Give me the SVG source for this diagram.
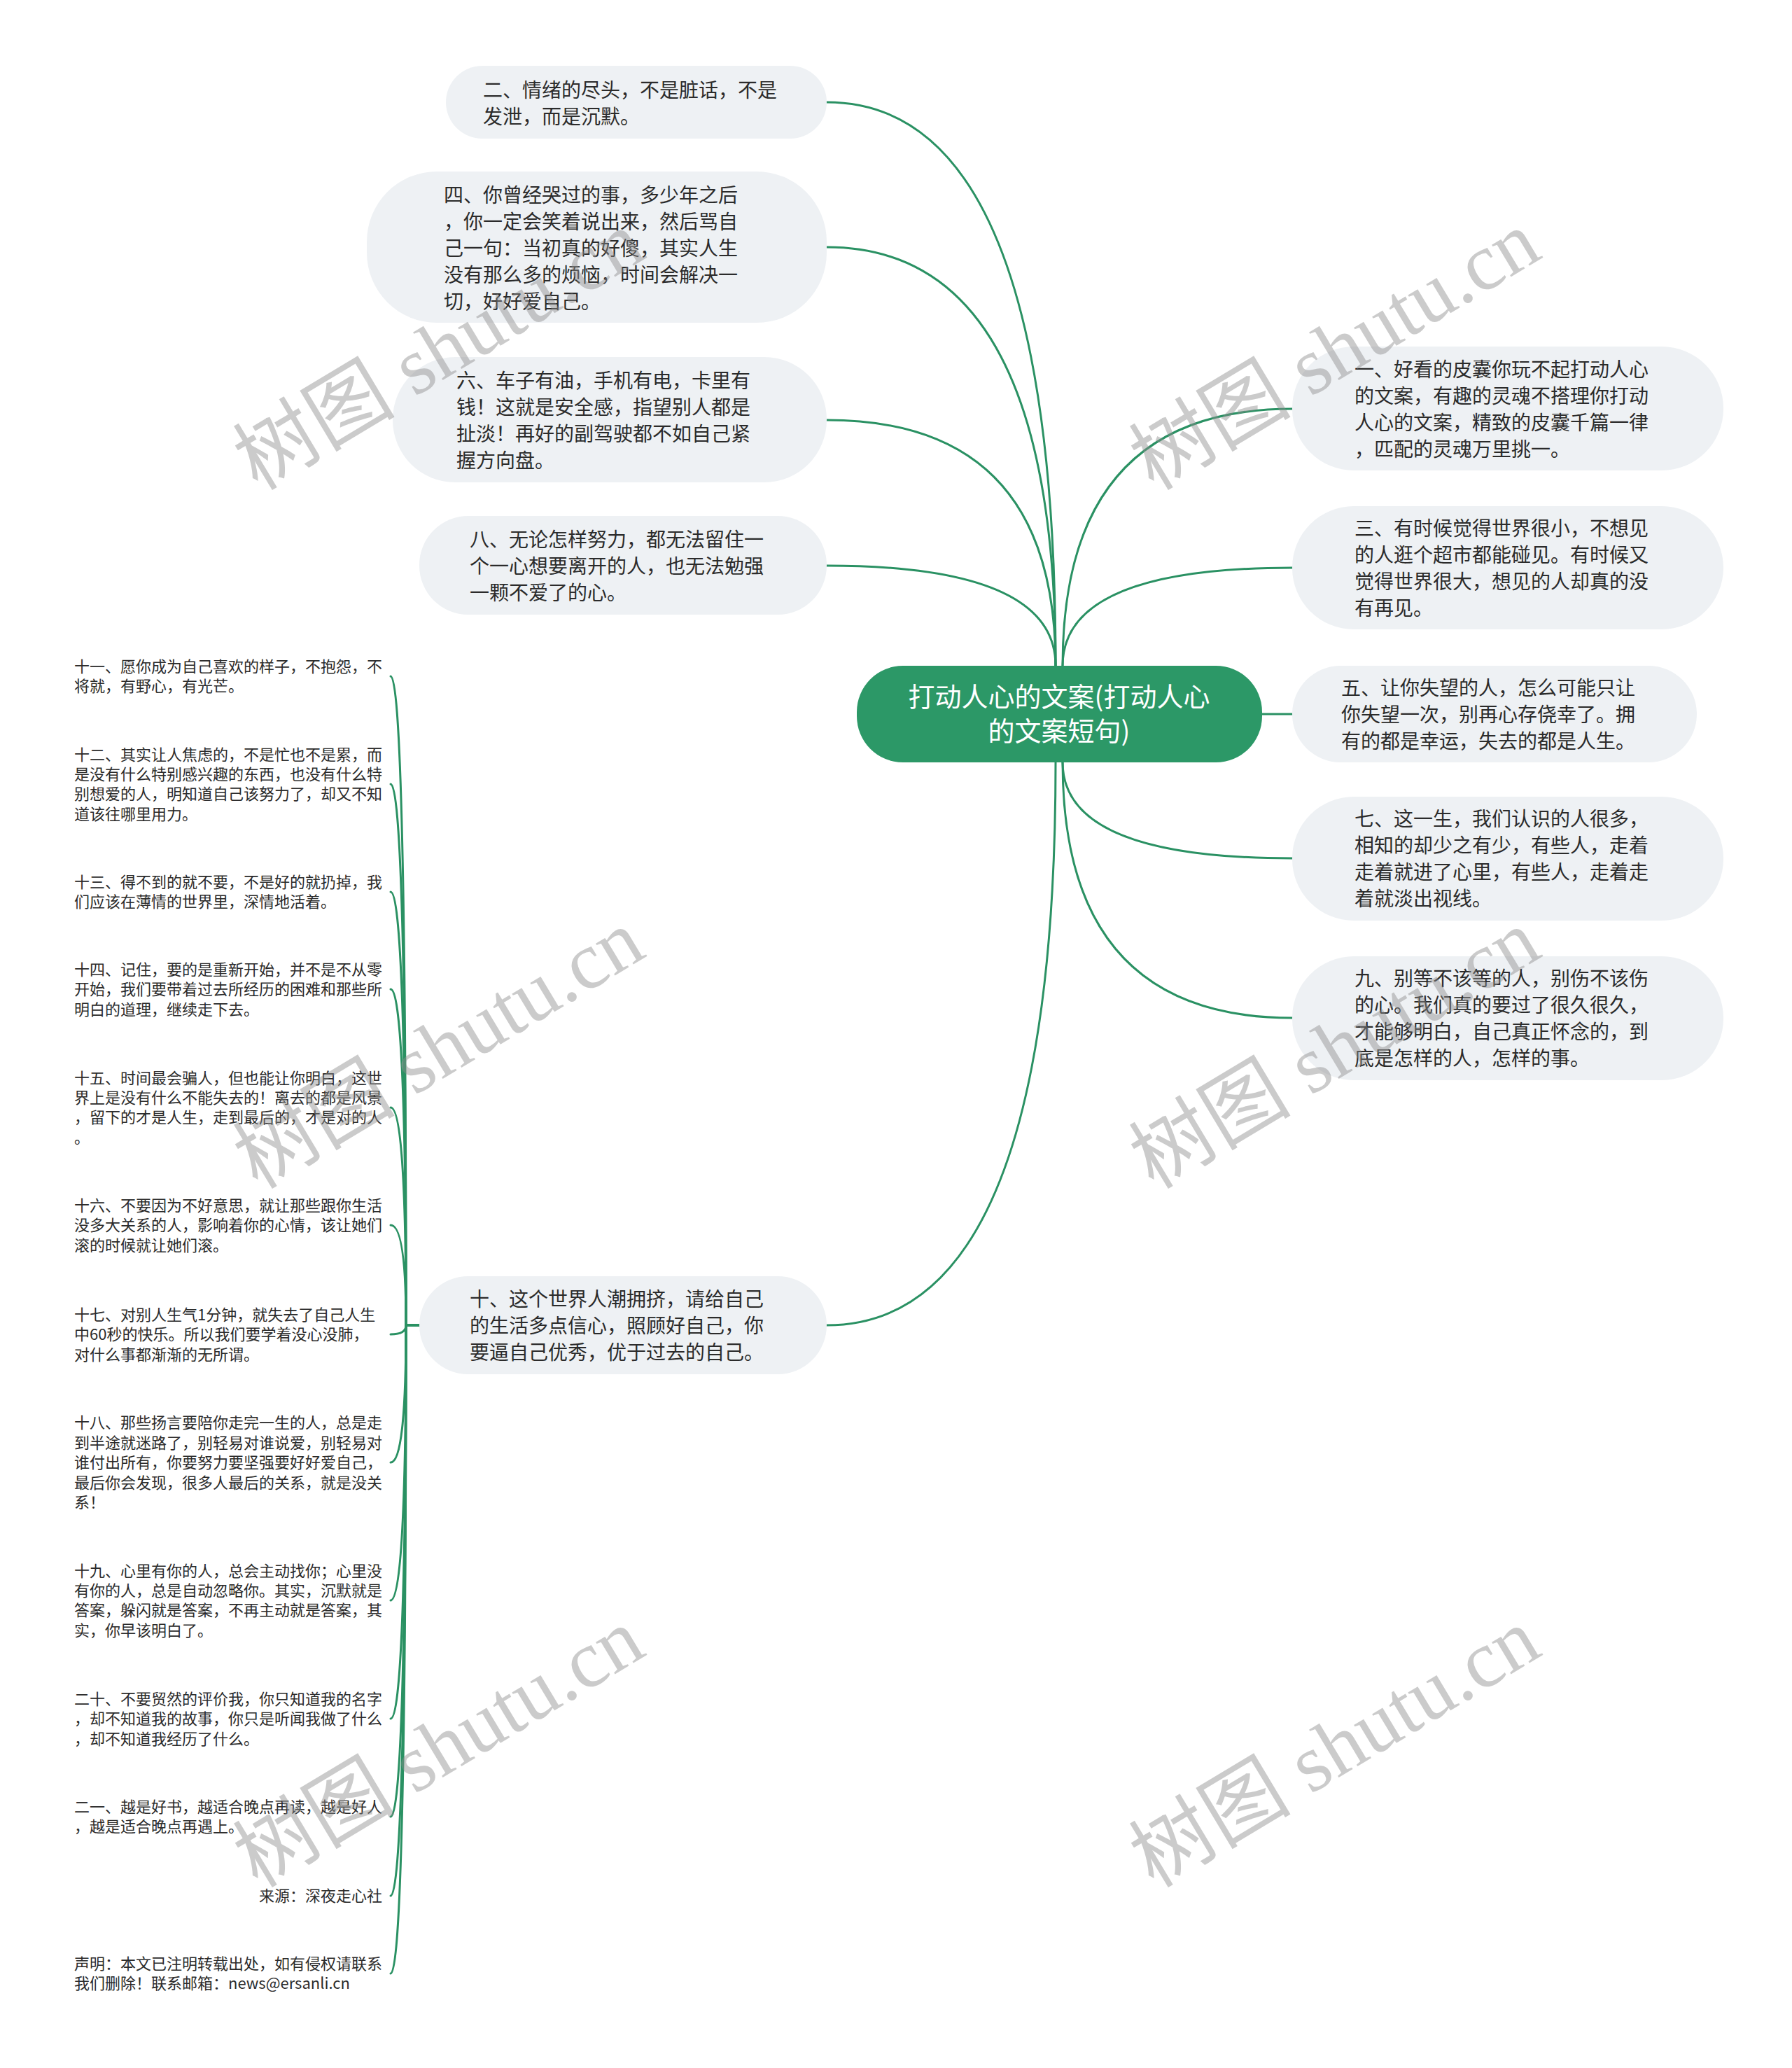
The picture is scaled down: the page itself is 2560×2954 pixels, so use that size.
<svg xmlns="http://www.w3.org/2000/svg" width="2560" height="2954" viewBox="0 0 2560 2954">
<style>
.bg{fill:#ffffff}
.box{fill:#eef1f4}
.root{fill:#2c9867}
.t{font-family:"Noto Sans CJK SC","Noto Sans",sans-serif;font-size:28px;fill:#2b2b2b}
.rt{font-family:"Noto Sans CJK SC","Noto Sans",sans-serif;font-size:38px;fill:#ffffff;text-anchor:middle}
.lf{font-family:"Noto Sans CJK SC","Noto Sans",sans-serif;font-size:22px;fill:#2b2b2b}
.link{fill:none;stroke:#2a9163;stroke-width:3;stroke-linecap:round}
.wm{font-family:"Liberation Serif","Noto Sans CJK SC",serif;font-size:116px;fill:rgba(140,140,140,0.45)}
</style>
<rect class="bg" x="0" y="0" width="2560" height="2954"/>

<g id="connectors">
  <path class="link" d="M1508 951 Q1508 146 1181 146"/>
  <path class="link" d="M1508 951 Q1508 353 1181 353"/>
  <path class="link" d="M1508 951 Q1508 600 1181 600"/>
  <path class="link" d="M1508 951 Q1508 808 1181 808"/>
  <path class="link" d="M1508 1089 Q1508 1893 1181 1893"/>
  <path class="link" d="M1518 951 Q1518 584 1846 584"/>
  <path class="link" d="M1518 951 Q1518 811 1846 811"/>
  <path class="link" d="M1803 1020 L1846 1020"/>
  <path class="link" d="M1518 1089 Q1518 1226 1846 1226"/>
  <path class="link" d="M1518 1089 Q1518 1454 1846 1454"/>
  <path class="link" d="M599 1893 H580 Q580 966 558 966"/>
  <path class="link" d="M599 1893 H580 Q580 1120 558 1120"/>
  <path class="link" d="M599 1893 H580 Q580 1274 558 1274"/>
  <path class="link" d="M599 1893 H580 Q580 1413 558 1413"/>
  <path class="link" d="M599 1893 H580 Q580 1582 558 1582"/>
  <path class="link" d="M599 1893 H580 Q580 1750 558 1750"/>
  <path class="link" d="M599 1893 H580 Q580 1906 558 1906"/>
  <path class="link" d="M599 1893 H580 Q580 2089 558 2089"/>
  <path class="link" d="M599 1893 H580 Q580 2286 558 2286"/>
  <path class="link" d="M599 1893 H580 Q580 2455 558 2455"/>
  <path class="link" d="M599 1893 H580 Q580 2595 558 2595"/>
  <path class="link" d="M599 1893 H580 Q580 2708 558 2708"/>
  <path class="link" d="M599 1893 H580 Q580 2819 558 2819"/>
</g>

<g id="root">
  <rect class="root" x="1224" y="951" width="579" height="138" rx="66"/>
  <text class="rt" x="1513" y="1009">打动人心的文案(打动人心</text>
  <text class="rt" x="1513" y="1058">的文案短句)</text>
</g>

<g id="n2">
  <rect class="box" x="637" y="94" width="544" height="104" rx="52"/>
  <text class="t" x="690" y="139">二、情绪的尽头，不是脏话，不是</text>
  <text class="t" x="690" y="177">发泄，而是沉默。</text>
</g>
<g id="n4">
  <rect class="box" x="524" y="245" width="657" height="216" rx="100"/>
  <text class="t" x="634" y="289">四、你曾经哭过的事，多少年之后</text>
  <text class="t" x="634" y="327">，你一定会笑着说出来，然后骂自</text>
  <text class="t" x="634" y="365">己一句：当初真的好傻，其实人生</text>
  <text class="t" x="634" y="403">没有那么多的烦恼，时间会解决一</text>
  <text class="t" x="634" y="441">切，好好爱自己。</text>
</g>
<g id="n6">
  <rect class="box" x="561" y="510" width="620" height="179" rx="89"/>
  <text class="t" x="652" y="554">六、车子有油，手机有电，卡里有</text>
  <text class="t" x="652" y="592">钱！这就是安全感，指望别人都是</text>
  <text class="t" x="652" y="630">扯淡！再好的副驾驶都不如自己紧</text>
  <text class="t" x="652" y="668">握方向盘。</text>
</g>
<g id="n8">
  <rect class="box" x="599" y="737" width="582" height="141" rx="70"/>
  <text class="t" x="671" y="781">八、无论怎样努力，都无法留住一</text>
  <text class="t" x="671" y="819">个一心想要离开的人，也无法勉强</text>
  <text class="t" x="671" y="857">一颗不爱了的心。</text>
</g>
<g id="n10">
  <rect class="box" x="599" y="1823" width="582" height="140" rx="70"/>
  <text class="t" x="671" y="1866">十、这个世界人潮拥挤，请给自己</text>
  <text class="t" x="671" y="1904">的生活多点信心，照顾好自己，你</text>
  <text class="t" x="671" y="1942">要逼自己优秀，优于过去的自己。</text>
</g>

<g id="n1">
  <rect class="box" x="1846" y="495" width="616" height="177" rx="88"/>
  <text class="t" x="1935" y="538">一、好看的皮囊你玩不起打动人心</text>
  <text class="t" x="1935" y="576">的文案，有趣的灵魂不搭理你打动</text>
  <text class="t" x="1935" y="614">人心的文案，精致的皮囊千篇一律</text>
  <text class="t" x="1935" y="652">，匹配的灵魂万里挑一。</text>
</g>
<g id="n3">
  <rect class="box" x="1846" y="723" width="616" height="176" rx="88"/>
  <text class="t" x="1935" y="765">三、有时候觉得世界很小，不想见</text>
  <text class="t" x="1935" y="803">的人逛个超市都能碰见。有时候又</text>
  <text class="t" x="1935" y="841">觉得世界很大，想见的人却真的没</text>
  <text class="t" x="1935" y="879">有再见。</text>
</g>
<g id="n5">
  <rect class="box" x="1846" y="951" width="578" height="138" rx="69"/>
  <text class="t" x="1916" y="993">五、让你失望的人，怎么可能只让</text>
  <text class="t" x="1916" y="1031">你失望一次，别再心存侥幸了。拥</text>
  <text class="t" x="1916" y="1069">有的都是幸运，失去的都是人生。</text>
</g>
<g id="n7">
  <rect class="box" x="1846" y="1138" width="616" height="177" rx="88"/>
  <text class="t" x="1935" y="1180">七、这一生，我们认识的人很多，</text>
  <text class="t" x="1935" y="1218">相知的却少之有少，有些人，走着</text>
  <text class="t" x="1935" y="1256">走着就进了心里，有些人，走着走</text>
  <text class="t" x="1935" y="1294">着就淡出视线。</text>
</g>
<g id="n9">
  <rect class="box" x="1846" y="1366" width="616" height="177" rx="88"/>
  <text class="t" x="1935" y="1408">九、别等不该等的人，别伤不该伤</text>
  <text class="t" x="1935" y="1446">的心。我们真的要过了很久很久，</text>
  <text class="t" x="1935" y="1484">才能够明白，自己真正怀念的，到</text>
  <text class="t" x="1935" y="1522">底是怎样的人，怎样的事。</text>
</g>

<g id="l11">
  <text class="lf" x="106" y="960">十一、愿你成为自己喜欢的样子，不抱怨，不</text>
  <text class="lf" x="106" y="988">将就，有野心，有光芒。</text>
</g>
<g id="l12">
  <text class="lf" x="106" y="1086">十二、其实让人焦虑的，不是忙也不是累，而</text>
  <text class="lf" x="106" y="1114">是没有什么特别感兴趣的东西，也没有什么特</text>
  <text class="lf" x="106" y="1142">别想爱的人，明知道自己该努力了，却又不知</text>
  <text class="lf" x="106" y="1171">道该往哪里用力。</text>
</g>
<g id="l13">
  <text class="lf" x="106" y="1268">十三、得不到的就不要，不是好的就扔掉，我</text>
  <text class="lf" x="106" y="1296">们应该在薄情的世界里，深情地活着。</text>
</g>
<g id="l14">
  <text class="lf" x="106" y="1393">十四、记住，要的是重新开始，并不是不从零</text>
  <text class="lf" x="106" y="1421">开始，我们要带着过去所经历的困难和那些所</text>
  <text class="lf" x="106" y="1450">明白的道理，继续走下去。</text>
</g>
<g id="l15">
  <text class="lf" x="106" y="1548">十五、时间最会骗人，但也能让你明白，这世</text>
  <text class="lf" x="106" y="1576">界上是没有什么不能失去的！离去的都是风景</text>
  <text class="lf" x="106" y="1604">，留下的才是人生，走到最后的，才是对的人</text>
  <text class="lf" x="106" y="1633">。</text>
</g>
<g id="l16">
  <text class="lf" x="106" y="1730">十六、不要因为不好意思，就让那些跟你生活</text>
  <text class="lf" x="106" y="1758">没多大关系的人，影响着你的心情，该让她们</text>
  <text class="lf" x="106" y="1787">滚的时候就让她们滚。</text>
</g>
<g id="l17">
  <text class="lf" x="106" y="1886">十七、对别人生气1分钟，就失去了自己人生</text>
  <text class="lf" x="106" y="1914">中60秒的快乐。所以我们要学着没心没肺，</text>
  <text class="lf" x="106" y="1943">对什么事都渐渐的无所谓。</text>
</g>
<g id="l18">
  <text class="lf" x="106" y="2040">十八、那些扬言要陪你走完一生的人，总是走</text>
  <text class="lf" x="106" y="2069">到半途就迷路了，别轻易对谁说爱，别轻易对</text>
  <text class="lf" x="106" y="2097">谁付出所有，你要努力要坚强要好好爱自己，</text>
  <text class="lf" x="106" y="2126">最后你会发现，很多人最后的关系，就是没关</text>
  <text class="lf" x="106" y="2154">系！</text>
</g>
<g id="l19">
  <text class="lf" x="106" y="2252">十九、心里有你的人，总会主动找你；心里没</text>
  <text class="lf" x="106" y="2280">有你的人，总是自动忽略你。其实，沉默就是</text>
  <text class="lf" x="106" y="2308">答案，躲闪就是答案，不再主动就是答案，其</text>
  <text class="lf" x="106" y="2337">实，你早该明白了。</text>
</g>
<g id="l20">
  <text class="lf" x="106" y="2435">二十、不要贸然的评价我，你只知道我的名字</text>
  <text class="lf" x="106" y="2463">，却不知道我的故事，你只是听闻我做了什么</text>
  <text class="lf" x="106" y="2492">，却不知道我经历了什么。</text>
</g>
<g id="l21">
  <text class="lf" x="106" y="2589">二一、越是好书，越适合晚点再读，越是好人</text>
  <text class="lf" x="106" y="2617">，越是适合晚点再遇上。</text>
</g>
<g id="l-source">
  <text class="lf" x="546" y="2716" text-anchor="end">来源：深夜走心社</text>
</g>
<g id="l-notice">
  <text class="lf" x="106" y="2813">声明：本文已注明转载出处，如有侵权请联系</text>
  <text class="lf" x="106" y="2841">我们删除！联系邮箱：news@ersanli.cn</text>
</g>

<g id="watermark">
  <text class="wm" transform="translate(368 702) rotate(-31)">树图 shutu.cn</text>
  <text class="wm" transform="translate(1648 702) rotate(-31)">树图 shutu.cn</text>
  <text class="wm" transform="translate(368 1700) rotate(-31)">树图 shutu.cn</text>
  <text class="wm" transform="translate(1648 1700) rotate(-31)">树图 shutu.cn</text>
  <text class="wm" transform="translate(368 2698) rotate(-31)">树图 shutu.cn</text>
  <text class="wm" transform="translate(1648 2698) rotate(-31)">树图 shutu.cn</text>
</g>
</svg>
